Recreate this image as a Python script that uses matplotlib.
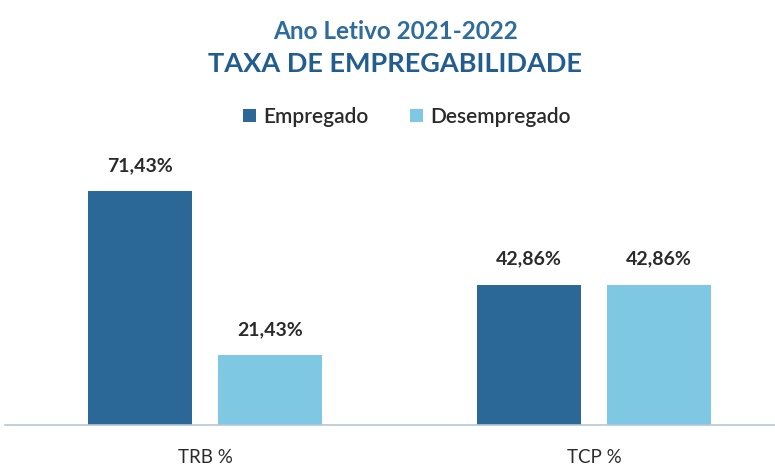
import matplotlib.pyplot as plt
import numpy as np

categorias = ["TRB %", "TCP %"]
empregado = [71.43, 42.86]
desempregado = [21.43, 42.86]
series = ["Empregado", "Desempregado"]

cor_emp = "#2b6797"
cor_des = "#7fc8e3"

plt.rcParams['font.family'] = ['Lato', 'DejaVu Sans']

fig = plt.figure(figsize=(7.75, 4.65), dpi=100)
ax = fig.add_axes([0.0065, 0.086, 0.9935, 0.57])

x = np.arange(len(categorias))
w = 0.267
off = 0.167
b1 = ax.bar(x - off, empregado, w, color=cor_emp, label=series[0])
b2 = ax.bar(x + off, desempregado, w, color=cor_des, label=series[1])

for bars, vals in [(b1, empregado), (b2, desempregado)]:
    for b, v in zip(bars, vals):
        ax.text(b.get_x() + b.get_width() / 2, v + 5.2, f"{v:.2f}%".replace(".", ","),
                ha="center", va="bottom", fontsize=14, fontweight="bold", color="#2a2a2a")

ax.set_xlim(-0.514, 1.465)
ax.set_ylim(0, 80.9)
ax.set_xticks(x)
ax.set_xticklabels(categorias, fontsize=13.5, color="#2a2a2a")
ax.tick_params(axis="x", length=0, pad=17)
ax.set_yticks([])
for s in ["top", "right", "left"]:
    ax.spines[s].set_visible(False)
ax.spines["bottom"].set_color("#b5c7d2")
ax.spines["bottom"].set_linewidth(1.2)

fig.text(0.51, 0.932, "Ano Letivo 2021-2022", ha="center", va="center",
         fontsize=17.5, fontweight="bold", color="#2f6c9e")
fig.text(0.51, 0.862, "TAXA DE EMPREGABILIDADE", ha="center", va="center",
         fontsize=19.5, fontweight="bold", color="#215d8e")

fig.legend(handles=[b1, b2], labels=series, loc="center", bbox_to_anchor=(0.525, 0.748),
           ncol=2, frameon=False, prop={"size": 15, "weight": "semibold"},
           handlelength=0.6, handleheight=0.6,
           handletextpad=0.35, columnspacing=2.0, labelcolor="#2a2a2a")

fig.savefig("out.png", dpi=100)
